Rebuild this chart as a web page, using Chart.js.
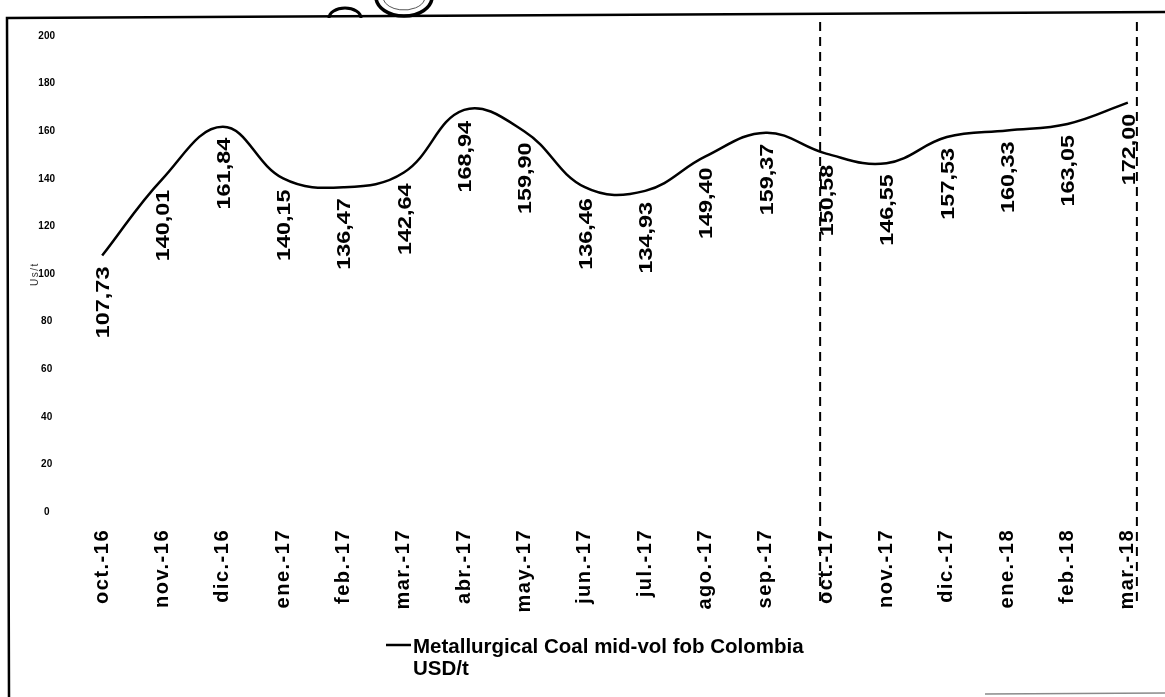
<!DOCTYPE html>
<html><head><meta charset="utf-8">
<script src="https://cdn.jsdelivr.net/npm/chart.js@4/dist/chart.umd.min.js"></script>
<style>html,body{margin:0;padding:0;background:#fff;overflow:hidden}canvas{display:block}</style>
</head><body>
<canvas id="c" width="1165" height="697"></canvas>
<script>
const categories = ['oct.-16','nov.-16','dic.-16','ene.-17','feb.-17','mar.-17','abr.-17','may.-17','jun.-17','jul.-17','ago.-17','sep.-17','oct.-17','nov.-17','dic.-17','ene.-18','feb.-18','mar.-18'];
const coalPrices = [107.73,140.01,161.84,140.15,136.47,142.64,168.94,159.90,136.46,134.93,149.40,159.37,150.58,146.55,157.53,160.33,163.05,172.00];
const yTickValues = [0,20,40,60,80,100,120,140,160,180,200];
const seriesName = 'Metallurgical Coal mid-vol fob Colombia';
const seriesUnit = 'USD/t';
const axisTitle = 'Us/t';

const FONT = '"Liberation Sans", Arial, Helvetica, sans-serif';
const fmt = v => v.toFixed(2).replace('.', ',');

const framePlugin = {
  id: 'frame',
  beforeDraw(chart) {
    const ctx = chart.ctx;
    ctx.save();
    ctx.strokeStyle = '#000';
    ctx.lineWidth = 2.5;
    ctx.beginPath();
    ctx.moveTo(9, 697); ctx.lineTo(7, 18); ctx.lineTo(1165, 12);
    ctx.stroke();
    ctx.strokeStyle = '#8a8a8a'; ctx.lineWidth = 1.5;
    ctx.beginPath(); ctx.moveTo(985, 694); ctx.lineTo(1165, 693); ctx.stroke();
    ctx.strokeStyle = '#000'; ctx.lineWidth = 3;
    ctx.beginPath(); ctx.ellipse(345, 18, 16, 10, 0, Math.PI, 2 * Math.PI); ctx.stroke();
    ctx.lineWidth = 3.5;
    ctx.beginPath(); ctx.ellipse(404, -3, 28, 19, 0, 0, Math.PI); ctx.stroke();
    ctx.lineWidth = 1; ctx.strokeStyle = '#555';
    ctx.beginPath(); ctx.ellipse(404, -3, 21, 13, 0, 0.2, Math.PI - 0.2); ctx.stroke();
    ctx.restore();
    ctx.letterSpacing = '1.5px';
  },
  beforeDatasetsDraw(chart) { chart.ctx.letterSpacing = '0px'; }
};

const valueLabelPlugin = {
  id: 'valueLabels',
  afterDatasetsDraw(chart) {
    const ctx = chart.ctx;
    const meta = chart.getDatasetMeta(0);
    const data = chart.data.datasets[0].data;
    ctx.save();
    ctx.letterSpacing = '0px';
    ctx.font = 'bold 18px ' + FONT;
    ctx.fillStyle = '#000';
    ctx.textAlign = 'right';
    ctx.textBaseline = 'middle';
    meta.data.forEach((pt, i) => {
      ctx.save();
      ctx.translate(pt.x + 2, pt.y + 11);
      ctx.rotate(-Math.PI / 2);
      ctx.scale(1.3, 1);
      ctx.fillText(fmt(data[i]), 0, 0);
      ctx.restore();
    });
    ctx.restore();
  }
};

const periodMarkPlugin = {
  id: 'periodMarks',
  afterDraw(chart, args, opts) {
    const ctx = chart.ctx, xs = chart.scales.x;
    ctx.save();
    ctx.strokeStyle = '#000'; ctx.lineWidth = 2; ctx.setLineDash([9, 6]);
    (opts.at || []).forEach(v => {
      const px = xs.getPixelForValue(v);
      ctx.beginPath(); ctx.moveTo(px, 22); ctx.lineTo(px, chart.chartArea.bottom + 90); ctx.stroke();
    });
    ctx.restore();
  }
};

const legendPlugin = {
  id: 'legendText',
  afterDraw(chart) {
    const ctx = chart.ctx;
    ctx.save();
    ctx.letterSpacing = '0px';
    ctx.strokeStyle = '#000'; ctx.lineWidth = 2.5;
    ctx.beginPath(); ctx.moveTo(386, 645); ctx.lineTo(411, 645); ctx.stroke();
    ctx.fillStyle = '#000';
    ctx.font = 'bold 20.5px ' + FONT;
    ctx.textAlign = 'left'; ctx.textBaseline = 'alphabetic';
    ctx.fillText(seriesName, 413, 653);
    ctx.fillText(seriesUnit, 413, 675);
    ctx.restore();
  }
};

new Chart(document.getElementById('c'), {
  type: 'line',
  data: {
    labels: categories,
    datasets: [{
      label: seriesName + ' ' + seriesUnit,
      data: coalPrices,
      borderColor: '#000',
      borderWidth: 2.5,
      pointRadius: 0,
      tension: 0.4,
      fill: false
    }]
  },
  options: {
    responsive: false,
    animation: false,
    devicePixelRatio: 1,
    layout: { padding: { left: 20, right: 7, top: 36, bottom: 0 } },
    plugins: {
      legend: { display: false },
      tooltip: { enabled: false },
      periodMarks: { at: [11.9, 17.15] }
    },
    scales: {
      x: {
        offset: true,
        grid: { display: false },
        border: { display: false },
        ticks: {
          autoSkip: false, maxRotation: 90, minRotation: 90, padding: 9,
          color: '#000', font: { family: FONT, size: 20, weight: 'bold' }
        },
        afterFit(s) { s.height = 185; }
      },
      y: {
        min: 0, max: 200,
        grid: { display: false },
        border: { display: false },
        afterBuildTicks(s) { s.ticks = yTickValues.map(v => ({ value: v })); },
        ticks: {
          z: 1,
          crossAlign: 'center', padding: 9, color: '#000',
          font: { family: FONT, size: 10, weight: 'bold' }
        },
        title: {
          display: true, text: axisTitle, color: '#333',
          font: { family: FONT, size: 10 }, padding: { top: 9, bottom: 0 }
        },
        afterFit(s) { s.width = 52; }
      }
    }
  },
  plugins: [framePlugin, valueLabelPlugin, periodMarkPlugin, legendPlugin]
});
</script>
</body></html>
